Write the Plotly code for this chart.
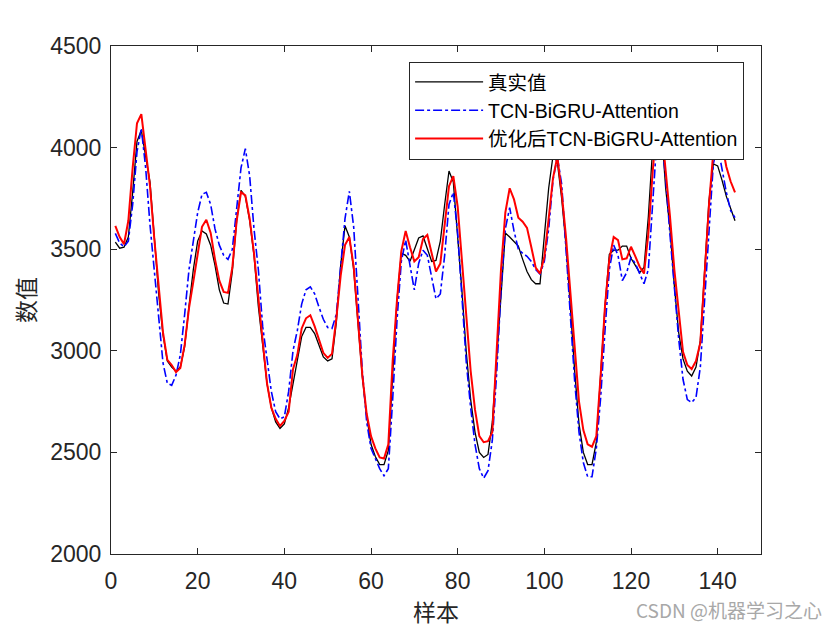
import plotly.graph_objects as go

sample_idx = list(range(1, 145))

true_vals = [
    3535, 3505, 3510, 3560, 3780, 4030, 4085, 3950, 3830, 3560,
    3280, 3080, 2950, 2920, 2900, 2920, 3020, 3220, 3400, 3540,
    3590, 3575, 3520, 3420, 3300, 3235, 3230, 3390, 3640, 3790,
    3760, 3640, 3470, 3220, 3030, 2840, 2720, 2650, 2618, 2640,
    2720, 2840, 2950, 3070, 3115, 3115, 3085, 3025, 2970, 2950,
    2960, 3140, 3420, 3615, 3560, 3400, 3120, 2870, 2680, 2540,
    2480, 2440, 2440, 2510, 2880, 3250, 3480, 3470, 3440, 3500,
    3555, 3565, 3500, 3440, 3445, 3540, 3720, 3885, 3830, 3580,
    3290, 2990, 2760, 2600, 2500, 2475, 2490, 2650, 2960, 3280,
    3580, 3560, 3535, 3515, 3450, 3390, 3350, 3330, 3330, 3560,
    3800, 3960, 3930, 3750, 3520, 3220, 2900, 2640, 2500, 2440,
    2440, 2550, 2880, 3220, 3475, 3495, 3495, 3515, 3515, 3455,
    3420, 3385, 3410, 3660, 4000, 4150, 4100, 3800, 3600, 3320,
    3090, 2960, 2900, 2876, 2920, 3050, 3400, 3740, 3920, 3910,
    3840, 3760, 3700, 3640,
]

tcn_vals = [
    3578, 3530, 3512, 3540, 3720, 3980, 4095, 3900, 3620, 3390,
    3160, 2940, 2840, 2830, 2880, 2980, 3180, 3400, 3540, 3680,
    3770, 3780, 3720, 3600, 3520, 3470, 3450, 3500, 3700, 3900,
    3995, 3860, 3600, 3400, 3120, 2950, 2800, 2700, 2665, 2675,
    2800, 3000, 3100, 3230, 3300, 3315, 3280, 3215, 3155, 3115,
    3110, 3180, 3400, 3650, 3785, 3610, 3260, 2900, 2650, 2520,
    2470, 2420, 2385, 2420, 2760, 3150, 3440, 3545, 3420, 3300,
    3430, 3495, 3470, 3360, 3255, 3280, 3470, 3720, 3780, 3580,
    3250, 2940, 2720, 2540, 2420, 2373, 2410, 2560, 2890, 3300,
    3600, 3705, 3590, 3500, 3480, 3465, 3440, 3400, 3378, 3440,
    3600, 3840, 3955, 3820, 3500, 3168, 2850, 2600, 2450, 2380,
    2380, 2520, 2770, 3100, 3400, 3520, 3470, 3345, 3385, 3460,
    3430, 3380, 3330, 3400, 3720, 4050, 4060, 3850, 3570, 3300,
    3060, 2860, 2760, 2745, 2770, 2920, 3250, 3620, 3920, 4010,
    3900, 3780, 3690, 3655,
]

opt_vals = [
    3615, 3560, 3525, 3640, 3900, 4120, 4165, 4000, 3810, 3550,
    3300, 3090, 2955, 2930, 2895, 2915, 3030, 3210, 3340, 3480,
    3610, 3645, 3580, 3450, 3345, 3290, 3285, 3410, 3640, 3780,
    3765, 3650, 3480, 3260, 3030, 2840, 2720, 2665, 2630, 2655,
    2700, 2910, 2980, 3110, 3160, 3175, 3120, 3050, 2990, 2965,
    2985, 3160, 3370, 3520, 3560, 3415, 3130, 2880, 2690, 2580,
    2520, 2475, 2470, 2540, 2950, 3250, 3490, 3590, 3510, 3440,
    3460, 3550, 3570, 3480, 3390, 3430, 3610, 3810, 3860, 3710,
    3440, 3150, 2900, 2710, 2580, 2550, 2555, 2600, 2990, 3400,
    3680, 3800, 3745, 3655, 3635, 3605, 3510, 3410, 3380, 3460,
    3650, 3850, 3955, 3780, 3560, 3280, 2990, 2750, 2610, 2540,
    2528, 2580, 2880, 3220, 3450, 3560, 3545, 3450, 3455, 3512,
    3465, 3414, 3380, 3575, 3880, 4130, 4110, 3900, 3660, 3400,
    3184, 2995, 2930, 2910, 2950, 3040, 3380, 3720, 3980, 4060,
    4020, 3906, 3833, 3780,
]

series_names = ["真实值", "TCN-BiGRU-Attention", "优化后TCN-BiGRU-Attention"]
x_ticks = [0, 20, 40, 60, 80, 100, 120, 140]
y_ticks = [2000, 2500, 3000, 3500, 4000, 4500]

fig = go.Figure()
fig.add_trace(go.Scatter(x=sample_idx, y=true_vals, mode="lines", name=series_names[0],
                         line=dict(color="black", width=1.3)))
fig.add_trace(go.Scatter(x=sample_idx, y=tcn_vals, mode="lines", name=series_names[1],
                         line=dict(color="blue", width=1.6, dash="dashdot")))
fig.add_trace(go.Scatter(x=sample_idx, y=opt_vals, mode="lines", name=series_names[2],
                         line=dict(color="red", width=2)))

axis_common = dict(showline=True, linecolor="#262626", linewidth=1, mirror="ticks",
                   ticks="inside", ticklen=6, tickcolor="#262626", tickwidth=1,
                   showgrid=False, zeroline=False, automargin=False,
                   tickfont=dict(family="Liberation Sans, Arial, sans-serif", size=23, color="#262626"))

fig.update_xaxes(range=[0, 150], tickvals=x_ticks, ticktext=[str(v) for v in x_ticks],
                 ticklabelstandoff=6,
                 title=dict(text="样本", font=dict(family="Noto Sans CJK SC", size=23, color="#262626"),
                            standoff=12),
                 **axis_common)
fig.update_yaxes(range=[2000, 4500], tickvals=y_ticks, ticktext=[str(v) for v in y_ticks],
                 ticklabelstandoff=4,
                 title=dict(text="数值", font=dict(family="Noto Sans CJK SC", size=23, color="#262626"),
                            standoff=10),
                 **axis_common)

fig.update_layout(
    width=832, height=622,
    paper_bgcolor="white", plot_bgcolor="white",
    margin=dict(l=103, r=79, t=38, b=76, autoexpand=False),
    showlegend=True,
    legend=dict(x=0.974, y=0.969, xanchor="right", yanchor="top",
                bgcolor="white", bordercolor="#262626", borderwidth=1,
                font=dict(family="Liberation Sans, Arial, Noto Sans CJK SC, sans-serif", size=19.5, color="black"),
                itemwidth=68, tracegroupgap=0),
    annotations=[dict(text="CSDN @机器学习之心", xref="paper", yref="paper",
                      x=1.097, y=-0.11, xanchor="right", yanchor="middle", showarrow=False,
                      font=dict(family="Noto Sans CJK SC", size=19, color="#a8a8a8"))],
)

fig.write_html("out.html")
